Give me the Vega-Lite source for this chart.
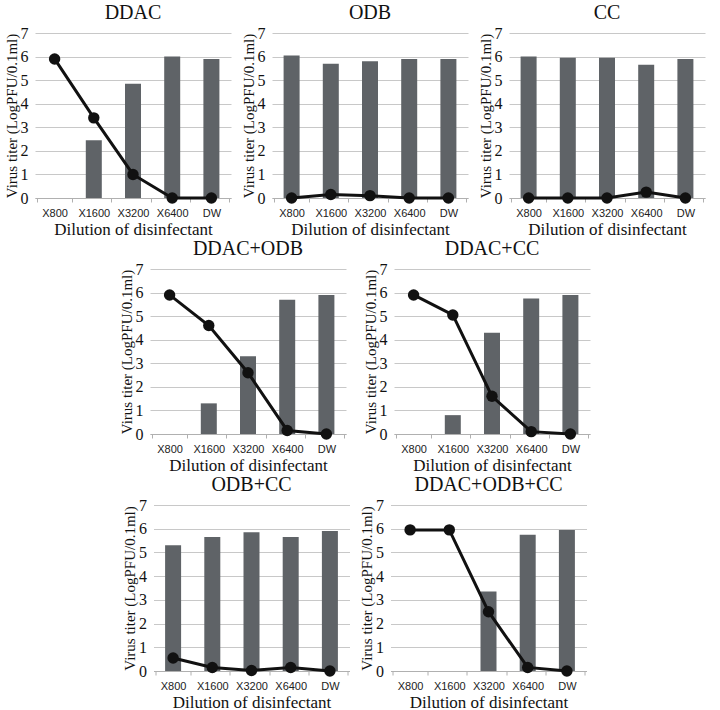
{
  "$schema": "https://vega.github.io/schema/vega-lite/v6.json",
  "padding": {"left": 4, "top": 3, "right": 2, "bottom": 0},
  "background": "white",
  "data": {
    "values": [
      {"panel": "DDAC", "dilution": "X800", "bar": null, "line": 5.9},
      {"panel": "DDAC", "dilution": "X1600", "bar": 2.45, "line": 3.4},
      {"panel": "DDAC", "dilution": "X3200", "bar": 4.85, "line": 1.0},
      {"panel": "DDAC", "dilution": "X6400", "bar": 6.0, "line": 0.0},
      {"panel": "DDAC", "dilution": "DW", "bar": 5.9, "line": 0.0},
      {"panel": "ODB", "dilution": "X800", "bar": 6.05, "line": 0.0},
      {"panel": "ODB", "dilution": "X1600", "bar": 5.7, "line": 0.15},
      {"panel": "ODB", "dilution": "X3200", "bar": 5.8, "line": 0.1},
      {"panel": "ODB", "dilution": "X6400", "bar": 5.9, "line": 0.0},
      {"panel": "ODB", "dilution": "DW", "bar": 5.9, "line": 0.0},
      {"panel": "CC", "dilution": "X800", "bar": 6.0, "line": 0.0},
      {"panel": "CC", "dilution": "X1600", "bar": 5.95, "line": 0.0},
      {"panel": "CC", "dilution": "X3200", "bar": 5.95, "line": 0.0},
      {"panel": "CC", "dilution": "X6400", "bar": 5.65, "line": 0.25},
      {"panel": "CC", "dilution": "DW", "bar": 5.9, "line": 0.0},
      {"panel": "DDAC+ODB", "dilution": "X800", "bar": null, "line": 5.9},
      {"panel": "DDAC+ODB", "dilution": "X1600", "bar": 1.3, "line": 4.6},
      {"panel": "DDAC+ODB", "dilution": "X3200", "bar": 3.3, "line": 2.6},
      {"panel": "DDAC+ODB", "dilution": "X6400", "bar": 5.7, "line": 0.15},
      {"panel": "DDAC+ODB", "dilution": "DW", "bar": 5.9, "line": 0.0},
      {"panel": "DDAC+CC", "dilution": "X800", "bar": null, "line": 5.9},
      {"panel": "DDAC+CC", "dilution": "X1600", "bar": 0.8, "line": 5.05},
      {"panel": "DDAC+CC", "dilution": "X3200", "bar": 4.3, "line": 1.6},
      {"panel": "DDAC+CC", "dilution": "X6400", "bar": 5.75, "line": 0.1},
      {"panel": "DDAC+CC", "dilution": "DW", "bar": 5.9, "line": 0.0},
      {"panel": "ODB+CC", "dilution": "X800", "bar": 5.3, "line": 0.55},
      {"panel": "ODB+CC", "dilution": "X1600", "bar": 5.65, "line": 0.15},
      {"panel": "ODB+CC", "dilution": "X3200", "bar": 5.85, "line": 0.02},
      {"panel": "ODB+CC", "dilution": "X6400", "bar": 5.65, "line": 0.15},
      {"panel": "ODB+CC", "dilution": "DW", "bar": 5.9, "line": 0.0},
      {"panel": "DDAC+ODB+CC", "dilution": "X800", "bar": null, "line": 5.95},
      {"panel": "DDAC+ODB+CC", "dilution": "X1600", "bar": null, "line": 5.95},
      {"panel": "DDAC+ODB+CC", "dilution": "X3200", "bar": 3.35, "line": 2.5},
      {"panel": "DDAC+ODB+CC", "dilution": "X6400", "bar": 5.75, "line": 0.15},
      {"panel": "DDAC+ODB+CC", "dilution": "DW", "bar": 5.95, "line": 0.0}
    ]
  },
  "config": {
    "view": {"stroke": null},
    "title": {"font": "Liberation Serif", "fontSize": 20, "fontWeight": "normal", "color": "#111", "offset": 2},
    "axisX": {
      "labelAngle": 0,
      "labelFont": "Liberation Sans",
      "labelFontSize": 11,
      "labelColor": "#222",
      "labelPadding": 5,
      "domainColor": "#b0b0b0",
      "tickColor": "#b0b0b0",
      "tickSize": 4,
      "tickBand": "extent",
      "titleFont": "Liberation Serif",
      "titleFontSize": 17,
      "titleFontWeight": "normal",
      "titleColor": "#111",
      "titlePadding": 3
    },
    "axisY": {
      "values": [0, 1, 2, 3, 4, 5, 6, 7],
      "grid": true,
      "gridColor": "#c8c8c8",
      "domain": false,
      "ticks": false,
      "labelFont": "Liberation Serif",
      "labelFontSize": 16,
      "labelColor": "#111",
      "labelPadding": 7,
      "titleFont": "Liberation Serif",
      "titleFontSize": 15,
      "titleFontWeight": "normal",
      "titleColor": "#111",
      "titlePadding": 1
    }
  },
  "center": true,
  "spacing": 2,
  "vconcat": [
    {
      "spacing": 10,
      "hconcat": [
        {
          "title": "DDAC",
          "width": 196, "height": 165,
          "transform": [{"filter": "datum.panel == 'DDAC'"}],
          "encoding": {"x": {"field": "dilution", "type": "nominal", "sort": ["X800", "X1600", "X3200", "X6400", "DW"], "title": "Dilution of disinfectant"}},
          "layer": [
            {"mark": {"type": "bar", "size": 16, "color": "#5f6367"}, "encoding": {"y": {"field": "bar", "type": "quantitative", "scale": {"domain": [0, 7]}, "title": "Virus titer (LogPFU/0.1ml)"}}},
            {"mark": {"type": "line", "color": "#111", "strokeWidth": 3, "point": {"filled": true, "size": 130, "color": "#111", "opacity": 1}}, "encoding": {"y": {"field": "line", "type": "quantitative", "title": "Virus titer (LogPFU/0.1ml)"}}}
          ]
        },
        {
          "title": "ODB",
          "width": 196, "height": 165,
          "transform": [{"filter": "datum.panel == 'ODB'"}],
          "encoding": {"x": {"field": "dilution", "type": "nominal", "sort": ["X800", "X1600", "X3200", "X6400", "DW"], "title": "Dilution of disinfectant"}},
          "layer": [
            {"mark": {"type": "bar", "size": 16, "color": "#5f6367"}, "encoding": {"y": {"field": "bar", "type": "quantitative", "scale": {"domain": [0, 7]}, "title": "Virus titer (LogPFU/0.1ml)"}}},
            {"mark": {"type": "line", "color": "#111", "strokeWidth": 3, "point": {"filled": true, "size": 130, "color": "#111", "opacity": 1}}, "encoding": {"y": {"field": "line", "type": "quantitative", "title": "Virus titer (LogPFU/0.1ml)"}}}
          ]
        },
        {
          "title": "CC",
          "width": 196, "height": 165,
          "transform": [{"filter": "datum.panel == 'CC'"}],
          "encoding": {"x": {"field": "dilution", "type": "nominal", "sort": ["X800", "X1600", "X3200", "X6400", "DW"], "title": "Dilution of disinfectant"}},
          "layer": [
            {"mark": {"type": "bar", "size": 16, "color": "#5f6367"}, "encoding": {"y": {"field": "bar", "type": "quantitative", "scale": {"domain": [0, 7]}, "title": "Virus titer (LogPFU/0.1ml)"}}},
            {"mark": {"type": "line", "color": "#111", "strokeWidth": 3, "point": {"filled": true, "size": 130, "color": "#111", "opacity": 1}}, "encoding": {"y": {"field": "line", "type": "quantitative", "title": "Virus titer (LogPFU/0.1ml)"}}}
          ]
        }
      ]
    },
    {
      "spacing": 17,
      "hconcat": [
        {
          "title": "DDAC+ODB",
          "width": 196, "height": 165,
          "transform": [{"filter": "datum.panel == 'DDAC+ODB'"}],
          "encoding": {"x": {"field": "dilution", "type": "nominal", "sort": ["X800", "X1600", "X3200", "X6400", "DW"], "title": "Dilution of disinfectant"}},
          "layer": [
            {"mark": {"type": "bar", "size": 16, "color": "#5f6367"}, "encoding": {"y": {"field": "bar", "type": "quantitative", "scale": {"domain": [0, 7]}, "title": "Virus titer (LogPFU/0.1ml)"}}},
            {"mark": {"type": "line", "color": "#111", "strokeWidth": 3, "point": {"filled": true, "size": 130, "color": "#111", "opacity": 1}}, "encoding": {"y": {"field": "line", "type": "quantitative", "title": "Virus titer (LogPFU/0.1ml)"}}}
          ]
        },
        {
          "title": "DDAC+CC",
          "width": 196, "height": 165,
          "transform": [{"filter": "datum.panel == 'DDAC+CC'"}],
          "encoding": {"x": {"field": "dilution", "type": "nominal", "sort": ["X800", "X1600", "X3200", "X6400", "DW"], "title": "Dilution of disinfectant"}},
          "layer": [
            {"mark": {"type": "bar", "size": 16, "color": "#5f6367"}, "encoding": {"y": {"field": "bar", "type": "quantitative", "scale": {"domain": [0, 7]}, "title": "Virus titer (LogPFU/0.1ml)"}}},
            {"mark": {"type": "line", "color": "#111", "strokeWidth": 3, "point": {"filled": true, "size": 130, "color": "#111", "opacity": 1}}, "encoding": {"y": {"field": "line", "type": "quantitative", "title": "Virus titer (LogPFU/0.1ml)"}}}
          ]
        }
      ]
    },
    {
      "spacing": 10,
      "hconcat": [
        {
          "title": "ODB+CC",
          "width": 196, "height": 166,
          "transform": [{"filter": "datum.panel == 'ODB+CC'"}],
          "encoding": {"x": {"field": "dilution", "type": "nominal", "sort": ["X800", "X1600", "X3200", "X6400", "DW"], "title": "Dilution of disinfectant"}},
          "layer": [
            {"mark": {"type": "bar", "size": 16, "color": "#5f6367"}, "encoding": {"y": {"field": "bar", "type": "quantitative", "scale": {"domain": [0, 7]}, "title": "Virus titer (LogPFU/0.1ml)"}}},
            {"mark": {"type": "line", "color": "#111", "strokeWidth": 3, "point": {"filled": true, "size": 130, "color": "#111", "opacity": 1}}, "encoding": {"y": {"field": "line", "type": "quantitative", "title": "Virus titer (LogPFU/0.1ml)"}}}
          ]
        },
        {
          "title": "DDAC+ODB+CC",
          "width": 196, "height": 166,
          "transform": [{"filter": "datum.panel == 'DDAC+ODB+CC'"}],
          "encoding": {"x": {"field": "dilution", "type": "nominal", "sort": ["X800", "X1600", "X3200", "X6400", "DW"], "title": "Dilution of disinfectant"}},
          "layer": [
            {"mark": {"type": "bar", "size": 16, "color": "#5f6367"}, "encoding": {"y": {"field": "bar", "type": "quantitative", "scale": {"domain": [0, 7]}, "title": "Virus titer (LogPFU/0.1ml)"}}},
            {"mark": {"type": "line", "color": "#111", "strokeWidth": 3, "point": {"filled": true, "size": 130, "color": "#111", "opacity": 1}}, "encoding": {"y": {"field": "line", "type": "quantitative", "title": "Virus titer (LogPFU/0.1ml)"}}}
          ]
        }
      ]
    }
  ]
}
